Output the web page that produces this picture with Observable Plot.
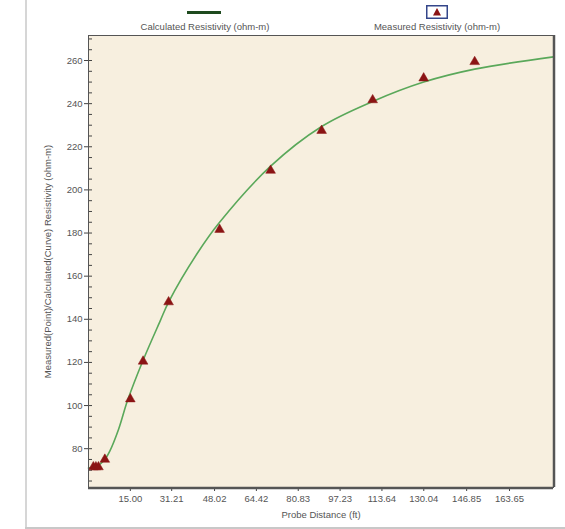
<!DOCTYPE html>
<html><head><meta charset="utf-8">
<script src="https://cdn.jsdelivr.net/npm/d3@7"></script>
<script src="https://cdn.jsdelivr.net/npm/@observablehq/plot@0.6"></script>
<style>
body{margin:0;background:#fff;font-family:"Liberation Sans",Arial,sans-serif;}
#wrap{position:relative;width:565px;height:529px;overflow:hidden;background:#fff}
#chart{position:absolute;left:0;top:0}
.vline{position:absolute;left:25px;top:0;width:2px;height:529px;background:#d6d6d6}
.hline{position:absolute;left:25px;top:527px;width:540px;height:2px;background:#c8c8c8}
.leg{position:absolute;font-size:9.5px;color:#555;white-space:nowrap;transform:translateX(-50%)}
</style></head><body>
<div id="wrap">
<div class="vline"></div><div class="hline"></div>
<div id="chart"></div>
<div style="position:absolute;left:187px;top:11px;width:34px;height:3px;background:#1e4a1e"></div>
<div class="leg" id="leg1" style="left:205px;top:21px"></div>
<svg style="position:absolute;left:426px;top:5px" width="22" height="14">
<rect x="0.75" y="0.75" width="20.5" height="12.5" fill="#fff" stroke="#34468a" stroke-width="1.5"/>
<path d="M11,3 L15,10.5 L7,10.5 Z" fill="#8b1414"/>
</svg>
<div class="leg" id="leg2" style="left:437px;top:21px"></div>
</div>
<script>
const seriesNames = ["Calculated Resistivity (ohm-m)", "Measured Resistivity (ohm-m)"];
const xLabel = "Probe Distance (ft)";
const yLabel = "Measured(Point)/Calculated(Curve) Resistivity (ohm-m)";
const xTicks = [15.00, 31.21, 48.02, 64.42, 80.83, 97.23, 113.64, 130.04, 146.85, 163.65];
const yTicks = [80, 100, 120, 140, 160, 180, 200, 220, 240, 260];
const yMinorTicks = [65,70,75,80,85,90,95,100,105,110,115,120,125,130,135,140,145,150,155,160,165,170,175,180,185,190,195,200,205,210,215,220,225,230,235,240,245,250,255,260,265,270];
const xDomain = [-1.4, 180.9];
const yDomain = [62, 271.6];
const measuredX = [0.5, 1.5, 2.5, 5, 15, 20, 30, 50, 70, 90, 110, 130, 150];
const measuredY = [71.5, 71.5, 71.5, 75, 103, 120.5, 148, 181.6, 209, 227.5, 241.7, 251.8, 259.4];
const curveX = [-1.4, 2, 4.6, 7, 10.4, 13.9, 20, 26.8, 30, 41.2, 50, 70, 90, 110, 130, 150, 180.9];
const curveY = [71, 72, 74.4, 79, 89, 102.3, 121, 139.5, 148, 170.5, 185, 211, 229.4, 241, 250, 256, 261.7];

document.getElementById("leg1").textContent = seriesNames[0];
document.getElementById("leg2").textContent = seriesNames[1];

const measured = measuredX.map((x, i) => ({x, y: measuredY[i]}));
const curve = curveX.map((x, i) => ({x, y: curveY[i]}));

const chart = Plot.plot({
  width: 565, height: 529,
  marginLeft: 88, marginRight: 12, marginTop: 35, marginBottom: 42,
  style: {background: "transparent", fontFamily: "'Liberation Sans', Arial, sans-serif", fontSize: "9.5px", color: "#555"},
  x: {domain: xDomain},
  y: {domain: yDomain},
  marks: [
    Plot.frame({fill: "#f7efdf", stroke: "none"}),
    Plot.axisY({ticks: yMinorTicks, tickSize: -4, text: null, label: null, stroke: "#444"}),
    Plot.axisY({ticks: yTicks, tickSize: 4, tickPadding: 2, label: yLabel, labelAnchor: "center", labelArrow: "none", labelOffset: 44, stroke: "#444", fill: "#555"}),
    Plot.axisX({ticks: xTicks, tickSize: 4, tickPadding: 4, tickFormat: d => d.toFixed(2), label: xLabel, labelAnchor: "center", labelArrow: "none", labelOffset: 30, stroke: "#444", fill: "#555"}),
    Plot.line(curve, {x: "x", y: "y", stroke: "#5aa85a", strokeWidth: 1.6, curve: "catmull-rom"}),
    Plot.dot(measured, {x: "x", y: "y", symbol: "triangle", r: 3.6, fill: "#8b1414", stroke: "#8b1414", strokeWidth: 0.5}),
    Plot.frame({stroke: "#555", strokeWidth: 1}),
    Plot.ruleX([xDomain[1]], {stroke: "#555", strokeWidth: 2.5, dx: 0.5}),
    Plot.ruleY([yDomain[0]], {stroke: "#555", strokeWidth: 2.5, dy: 0.5})
  ]
});
document.getElementById("chart").appendChild(chart);
</script>
</body></html>
